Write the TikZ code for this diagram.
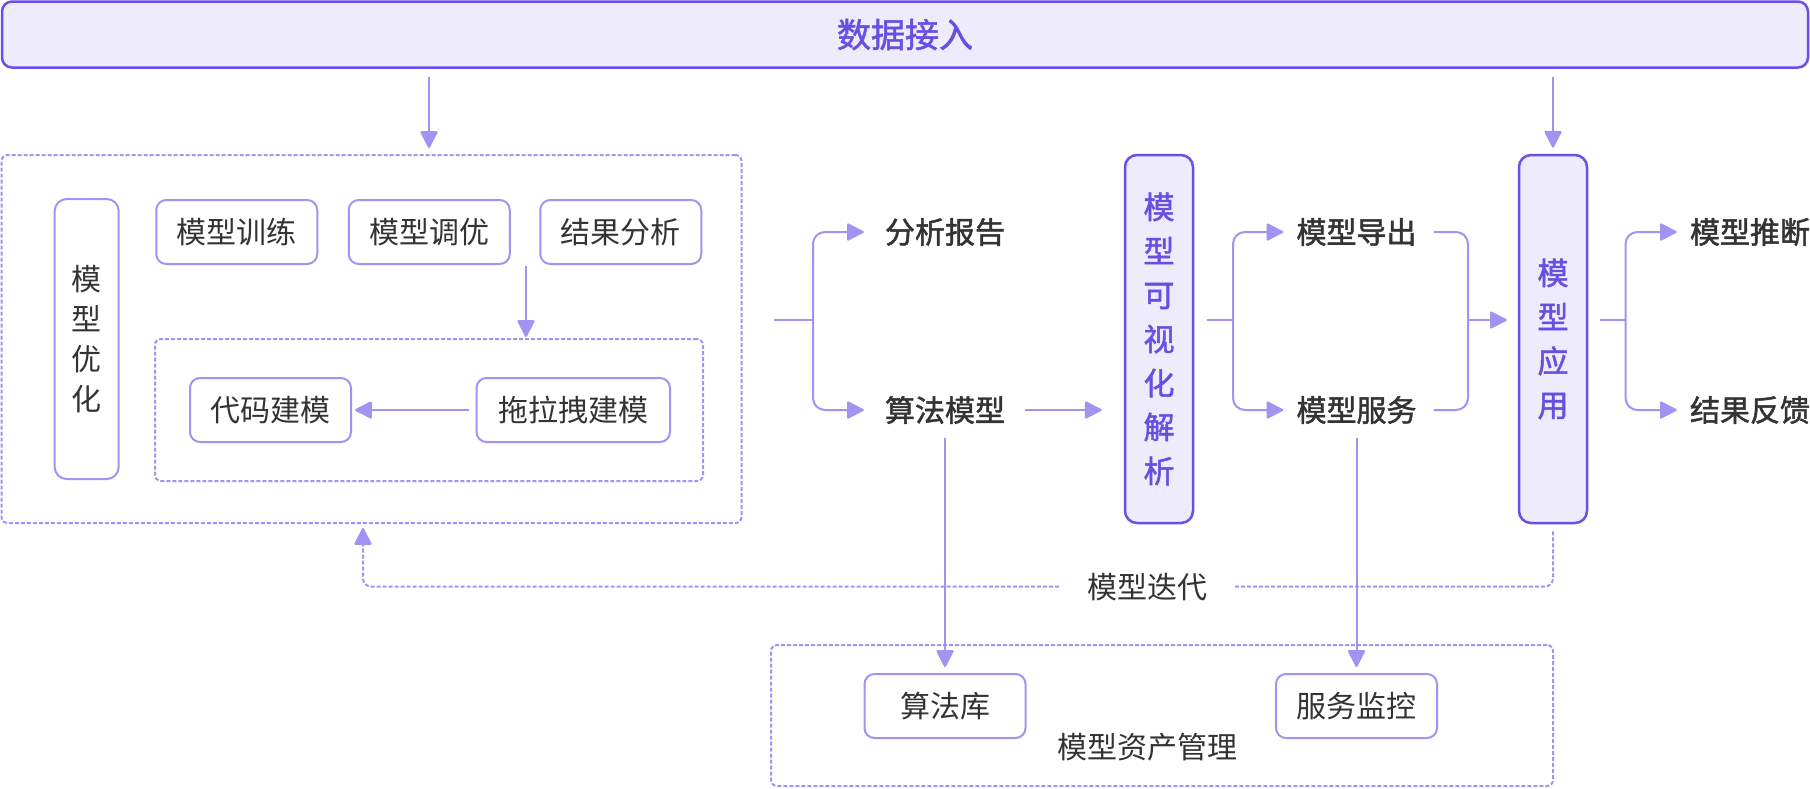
\documentclass[tikz,border=0pt]{standalone}
\usepackage{fontspec}
\setmainfont{Noto Sans CJK SC}
\newfontfamily\cjkm[FakeBold=1.6]{Noto Sans CJK SC}
\usetikzlibrary{arrows.meta,calc}
\definecolor{lav}{HTML}{A293F1}
\definecolor{strong}{HTML}{6A4FE8}
\definecolor{fillc}{HTML}{EEEBFD}
\definecolor{txt}{HTML}{333333}
\definecolor{ptxt}{HTML}{6650E2}
\begin{document}
\begin{tikzpicture}[x=1pt,y=-1pt,
  lbox/.style={draw=lav,line width=2pt,rounded corners=10pt,fill=white,minimum width=161pt,minimum height=64pt,inner sep=0pt,text=txt,font=\fontsize{30}{36}\selectfont},
  vbox/.style={draw=lav,line width=2pt,rounded corners=12pt,fill=white,inner sep=0pt,text=txt,align=center,font=\fontsize{30}{40}\selectfont},
  sbox/.style={draw=strong,line width=2.5pt,rounded corners=12pt,fill=fillc,inner sep=0pt,minimum width=68pt,minimum height=368pt,text=ptxt,align=center,font=\cjkm\fontsize{31}{44}\selectfont},
  grp/.style={draw=lav,line width=2pt,dash pattern=on 4pt off 2pt,rounded corners=6pt,inner sep=0pt},
  lab/.style={inner sep=0pt,minimum height=56pt,text=txt,font=\cjkm\fontsize{30}{36}\selectfont},
  lab2/.style={inner sep=0pt,text=txt,font=\fontsize{30}{36}\selectfont},
  ln/.style={draw=lav,line width=2pt},
  arr/.style={draw=lav,line width=2pt,rounded corners=12pt,-{Triangle[length=18pt,width=18pt,round]},lav},
  darr/.style={draw=lav,line width=2pt,dash pattern=on 4pt off 2pt,rounded corners=8pt,-{Triangle[length=18pt,width=18pt,round]}}
]
\useasboundingbox (0,0) rectangle (1810,788);
% top bar
\node[draw=strong,line width=2.5pt,rounded corners=10pt,fill=fillc,minimum width=1806pt,minimum height=66pt,inner sep=0pt,text=ptxt,font=\cjkm\fontsize{34}{40}\selectfont] (top) at (905,34.5) {数据接入};
% groups
\node[grp,minimum width=740pt,minimum height=368pt] (g1) at (371.5,339) {};
\node[grp,minimum width=548pt,minimum height=142pt] (g2) at (429,410) {};
\node[grp,minimum width=782pt,minimum height=141pt] (g3) at (1162,715.5) {};
% left group boxes
\node[vbox,minimum width=64pt,minimum height=280pt] (opt) at (86.7,339) {模\\型\\优\\化};
\node[lbox] (train) at (236.75,232) {模型训练};
\node[lbox] (tune) at (429.25,232) {模型调优};
\node[lbox] (ana) at (620.75,232) {结果分析};
\node[lbox] (code) at (270.5,410) {代码建模};
\node[lbox,minimum width=193.5pt] (drag) at (573.25,410) {拖拉拽建模};
% tall boxes
\node[sbox] (vis) at (1159,339) {模\\型\\可\\视\\化\\解\\析};
\node[sbox] (app) at (1553,339) {模\\型\\应\\用};
% labels
\node[lab] (rep) at (945,232) {分析报告};
\node[lab] (alg) at (945,410) {算法模型};
\node[lab] (exp) at (1356.5,232) {模型导出};
\node[lab] (srv) at (1356.5,410) {模型服务};
\node[lab] (inf) at (1750,232) {模型推断};
\node[lab] (fbk) at (1750,410) {结果反馈};
% bottom boxes
\node[lbox] (lib) at (945,706) {算法库};
\node[lbox] (mon) at (1356.5,706) {服务监控};
\node[lab2] (asset) at (1147,747) {模型资产管理};
% coordinates
\coordinate (t1) at (429,0);
\coordinate (t2) at (1553,0);
\coordinate (ax) at (526,266);
\coordinate (j1) at (813,320);
\coordinate (j2) at (1233,320);
\coordinate (j3) at (1468,320);
\coordinate (j4) at (1625.5,320);
\coordinate (fbR) at (1553,586.5);
\coordinate (fbL) at (363,528);
% connectors
\draw[arr] ($(top.south -| t1)+(0,8)$) -- ($(g1.north -| t1)+(0,-6)$);
\draw[arr] ($(top.south -| t2)+(0,8)$) -- ($(app.north)+(0,-6)$);
\draw[arr] (ax) -- ($(g2.north -| ax)+(0,-1)$);
\draw[arr] ([xshift=-7pt]drag.west) -- ([xshift=3pt]code.east);
\draw[ln] ($(g1.east |- j1)+(31,0)$) -- (j1);
\draw[arr] (j1) |- ([xshift=-21pt]rep.west);
\draw[arr] (j1) |- ([xshift=-21pt]alg.west);
\draw[arr] ([xshift=20pt]alg.east) -- ($(vis.west |- alg)+(-22,0)$);
\draw[ln] ($(vis.east |- j2)+(13,0)$) -- (j2);
\draw[arr] (j2) |- ([xshift=-13pt]exp.west);
\draw[arr] (j2) |- ([xshift=-13pt]srv.west);
\draw[ln,rounded corners=12pt] ([xshift=17pt]exp.east) -| (j3);
\draw[ln,rounded corners=12pt] ([xshift=17pt]srv.east) -| (j3);
\draw[arr] (j3) -- ($(app.west |- j3)+(-11,0)$);
\draw[ln] ($(app.east |- j4)+(12,0)$) -- (j4);
\draw[arr] (j4) |- ([xshift=-13pt]inf.west);
\draw[arr] (j4) |- ([xshift=-13pt]fbk.west);
\draw[arr] (alg.south) -- ($(lib.north)+(0,-6)$);
\draw[arr] (srv.south) -- ($(mon.north)+(0,-6)$);
\draw[darr] ($(app.south)+(0,7)$) |- (fbL |- fbR) -- (fbL);
\node[lab2,fill=white,inner xsep=28pt,inner ysep=4pt] (iter) at (1147,587) {模型迭代};
\end{tikzpicture}
\end{document}
